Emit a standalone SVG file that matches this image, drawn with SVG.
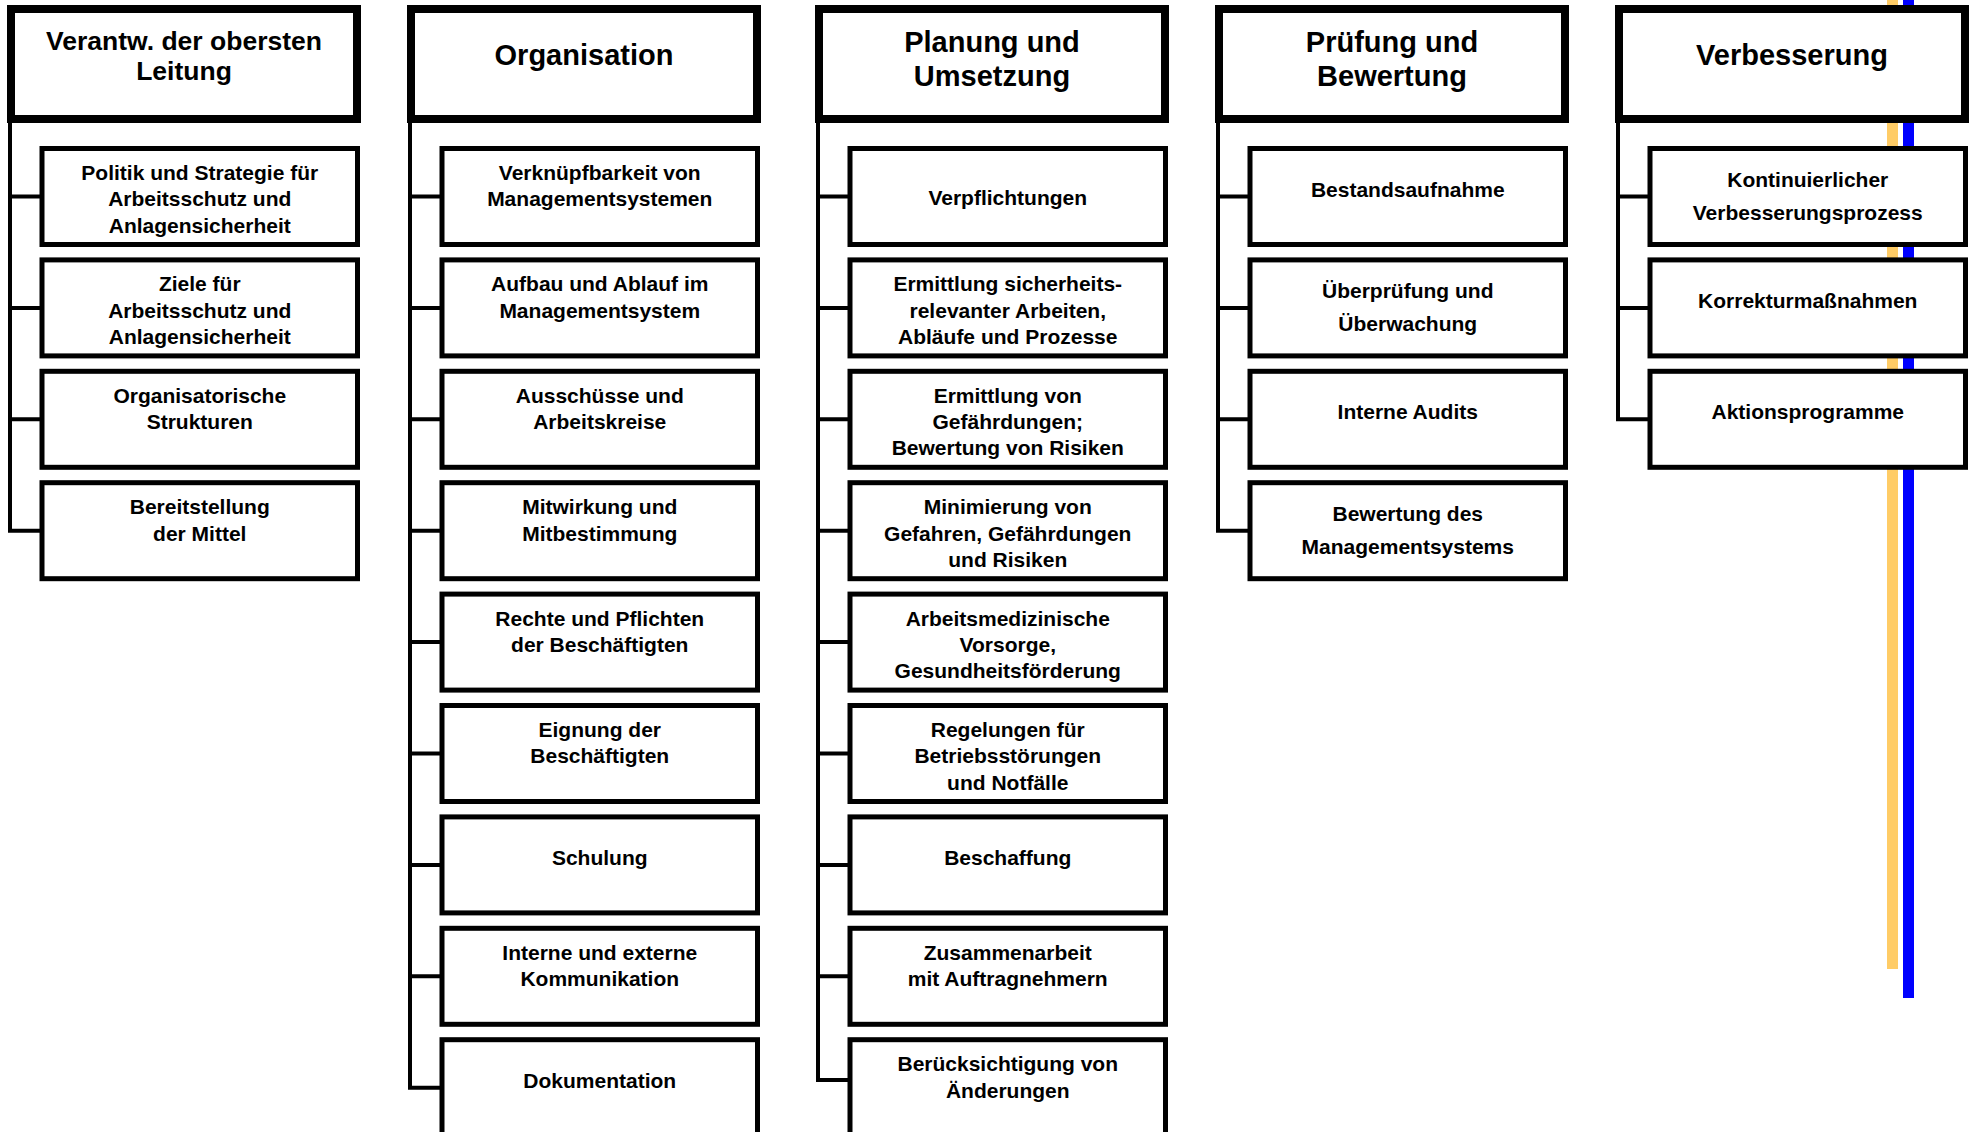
<svg xmlns="http://www.w3.org/2000/svg" width="1971" height="1132" viewBox="0 0 1971 1132">
<style>
.hdr{fill:#fff;stroke:#000;stroke-width:8}
.box{fill:#fff;stroke:#000;stroke-width:5}
.ht{font-family:"Liberation Sans",Arial,sans-serif;font-weight:bold;font-size:29px;text-anchor:middle;fill:#000}
.bt{font-family:"Liberation Sans",Arial,sans-serif;font-weight:bold;font-size:21px;text-anchor:middle;fill:#000}
.conn{fill:none;stroke:#000;stroke-width:4}
</style>
<rect x="1887" y="0" width="11" height="969" fill="#FFCC66"/>
<rect x="1903" y="0" width="11" height="998" fill="#0000FF"/>
<g id="connectors">
<path class="conn" d="M10 119V530.7H42M10 196.5H42M10 307.9H42M10 419.3H42"/>
<path class="conn" d="M410 119V1087.7H442M410 196.5H442M410 307.9H442M410 419.3H442M410 530.7H442M410 642.1H442M410 753.5H442M410 864.9H442M410 976.3H442"/>
<path class="conn" d="M818 119V1080H850M818 196.5H850M818 307.9H850M818 419.3H850M818 530.7H850M818 642.1H850M818 753.5H850M818 864.9H850M818 976.3H850"/>
<path class="conn" d="M1218 119V530.7H1250M1218 196.5H1250M1218 307.9H1250M1218 419.3H1250"/>
<path class="conn" d="M1618 119V419.3H1650M1618 196.5H1650M1618 307.9H1650"/>
</g>
<g id="h1"><rect class="hdr" x="11" y="9" width="346" height="110"/><text class="ht" style="font-size:26.5px"><tspan x="184" y="50">Verantw. der obersten</tspan><tspan x="184" y="80">Leitung</tspan></text></g>
<g id="h2"><rect class="hdr" x="411" y="9" width="346" height="110"/><text class="ht" x="584" y="64.5">Organisation</text></g>
<g id="h3"><rect class="hdr" x="819" y="9" width="346" height="110"/><text class="ht"><tspan x="992" y="52.3">Planung und</tspan><tspan x="992" y="86">Umsetzung</tspan></text></g>
<g id="h4"><rect class="hdr" x="1219" y="9" width="346" height="110"/><text class="ht"><tspan x="1392" y="52.3">Prüfung und</tspan><tspan x="1392" y="86">Bewertung</tspan></text></g>
<g id="h5"><rect class="hdr" x="1619" y="9" width="346" height="110"/><text class="ht" x="1792" y="64.5">Verbesserung</text></g>

<g id="c1r1"><rect class="box" x="42" y="148.5" width="315.5" height="96"/><text class="bt"><tspan x="199.75" y="180">Politik und Strategie für</tspan><tspan x="199.75" y="206.3">Arbeitsschutz und</tspan><tspan x="199.75" y="232.6">Anlagensicherheit</tspan></text></g>
<g id="c1r2"><rect class="box" x="42" y="259.9" width="315.5" height="96"/><text class="bt"><tspan x="199.75" y="291.4">Ziele für</tspan><tspan x="199.75" y="317.7">Arbeitsschutz und</tspan><tspan x="199.75" y="344">Anlagensicherheit</tspan></text></g>
<g id="c1r3"><rect class="box" x="42" y="371.3" width="315.5" height="96"/><text class="bt"><tspan x="199.75" y="402.8">Organisatorische</tspan><tspan x="199.75" y="429.1">Strukturen</tspan></text></g>
<g id="c1r4"><rect class="box" x="42" y="482.7" width="315.5" height="96"/><text class="bt"><tspan x="199.75" y="514.2">Bereitstellung</tspan><tspan x="199.75" y="540.5">der Mittel</tspan></text></g>

<g id="c2r1"><rect class="box" x="442" y="148.5" width="315.5" height="96"/><text class="bt"><tspan x="599.75" y="180">Verknüpfbarkeit von</tspan><tspan x="599.75" y="206.3">Managementsystemen</tspan></text></g>
<g id="c2r2"><rect class="box" x="442" y="259.9" width="315.5" height="96"/><text class="bt"><tspan x="599.75" y="291.4">Aufbau und Ablauf im</tspan><tspan x="599.75" y="317.7">Managementsystem</tspan></text></g>
<g id="c2r3"><rect class="box" x="442" y="371.3" width="315.5" height="96"/><text class="bt"><tspan x="599.75" y="402.8">Ausschüsse und</tspan><tspan x="599.75" y="429.1">Arbeitskreise</tspan></text></g>
<g id="c2r4"><rect class="box" x="442" y="482.7" width="315.5" height="96"/><text class="bt"><tspan x="599.75" y="514.2">Mitwirkung und</tspan><tspan x="599.75" y="540.5">Mitbestimmung</tspan></text></g>
<g id="c2r5"><rect class="box" x="442" y="594.1" width="315.5" height="96"/><text class="bt"><tspan x="599.75" y="625.6">Rechte und Pflichten</tspan><tspan x="599.75" y="651.9">der Beschäftigten</tspan></text></g>
<g id="c2r6"><rect class="box" x="442" y="705.5" width="315.5" height="96"/><text class="bt"><tspan x="599.75" y="737">Eignung der</tspan><tspan x="599.75" y="763.3">Beschäftigten</tspan></text></g>
<g id="c2r7"><rect class="box" x="442" y="816.9" width="315.5" height="96"/><text class="bt" x="599.75" y="865.4">Schulung</text></g>
<g id="c2r8"><rect class="box" x="442" y="928.3" width="315.5" height="96"/><text class="bt"><tspan x="599.75" y="959.8">Interne und externe</tspan><tspan x="599.75" y="986.1">Kommunikation</tspan></text></g>
<g id="c2r9"><rect class="box" x="442" y="1039.7" width="315.5" height="96"/><text class="bt" x="599.75" y="1088.2">Dokumentation</text></g>

<g id="c3r1"><rect class="box" x="850" y="148.5" width="315.5" height="96"/><text class="bt" x="1007.75" y="205">Verpflichtungen</text></g>
<g id="c3r2"><rect class="box" x="850" y="259.9" width="315.5" height="96"/><text class="bt"><tspan x="1007.75" y="291.4">Ermittlung sicherheits-</tspan><tspan x="1007.75" y="317.7">relevanter Arbeiten,</tspan><tspan x="1007.75" y="344">Abläufe und Prozesse</tspan></text></g>
<g id="c3r3"><rect class="box" x="850" y="371.3" width="315.5" height="96"/><text class="bt"><tspan x="1007.75" y="402.8">Ermittlung von</tspan><tspan x="1007.75" y="429.1">Gefährdungen;</tspan><tspan x="1007.75" y="455.4">Bewertung von Risiken</tspan></text></g>
<g id="c3r4"><rect class="box" x="850" y="482.7" width="315.5" height="96"/><text class="bt"><tspan x="1007.75" y="514.2">Minimierung von</tspan><tspan x="1007.75" y="540.5">Gefahren, Gefährdungen</tspan><tspan x="1007.75" y="566.8">und Risiken</tspan></text></g>
<g id="c3r5"><rect class="box" x="850" y="594.1" width="315.5" height="96"/><text class="bt"><tspan x="1007.75" y="625.6">Arbeitsmedizinische</tspan><tspan x="1007.75" y="651.9">Vorsorge,</tspan><tspan x="1007.75" y="678.2">Gesundheitsförderung</tspan></text></g>
<g id="c3r6"><rect class="box" x="850" y="705.5" width="315.5" height="96"/><text class="bt"><tspan x="1007.75" y="737">Regelungen für</tspan><tspan x="1007.75" y="763.3">Betriebsstörungen</tspan><tspan x="1007.75" y="789.6">und Notfälle</tspan></text></g>
<g id="c3r7"><rect class="box" x="850" y="816.9" width="315.5" height="96"/><text class="bt" x="1007.75" y="865.4">Beschaffung</text></g>
<g id="c3r8"><rect class="box" x="850" y="928.3" width="315.5" height="96"/><text class="bt"><tspan x="1007.75" y="959.8">Zusammenarbeit</tspan><tspan x="1007.75" y="986.1">mit Auftragnehmern</tspan></text></g>
<g id="c3r9"><rect class="box" x="850" y="1039.7" width="315.5" height="96"/><text class="bt"><tspan x="1007.75" y="1071.2">Berücksichtigung von</tspan><tspan x="1007.75" y="1097.5">Änderungen</tspan></text></g>

<g id="c4r1"><rect class="box" x="1250" y="148.5" width="315.5" height="96"/><text class="bt" x="1407.75" y="196.5">Bestandsaufnahme</text></g>
<g id="c4r2"><rect class="box" x="1250" y="259.9" width="315.5" height="96"/><text class="bt"><tspan x="1407.75" y="297.9">Überprüfung und</tspan><tspan x="1407.75" y="330.9">Überwachung</tspan></text></g>
<g id="c4r3"><rect class="box" x="1250" y="371.3" width="315.5" height="96"/><text class="bt" x="1407.75" y="419.3">Interne Audits</text></g>
<g id="c4r4"><rect class="box" x="1250" y="482.7" width="315.5" height="96"/><text class="bt"><tspan x="1407.75" y="520.7">Bewertung des</tspan><tspan x="1407.75" y="553.7">Managementsystems</tspan></text></g>

<g id="c5r1"><rect class="box" x="1650" y="148.5" width="315.5" height="96"/><text class="bt"><tspan x="1807.75" y="186.5">Kontinuierlicher</tspan><tspan x="1807.75" y="219.5">Verbesserungsprozess</tspan></text></g>
<g id="c5r2"><rect class="box" x="1650" y="259.9" width="315.5" height="96"/><text class="bt" x="1807.75" y="307.9">Korrekturmaßnahmen</text></g>
<g id="c5r3"><rect class="box" x="1650" y="371.3" width="315.5" height="96"/><text class="bt" x="1807.75" y="419.3">Aktionsprogramme</text></g>
</svg>
